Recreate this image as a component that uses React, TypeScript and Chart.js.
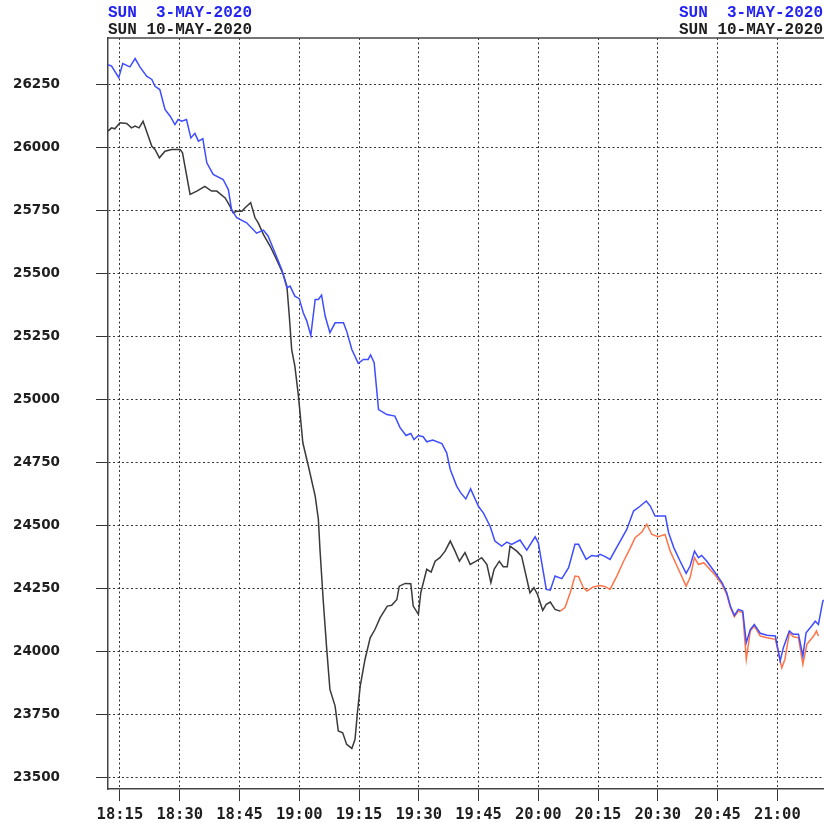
import React, { useEffect, useRef } from 'react';
import { Chart, registerables } from 'chart.js';

Chart.register(...registerables);

// x values are minutes after 18:00
const X_MIN = 12;
const X_MAX = 191.7;
const Y_MIN = 23454;
const Y_MAX = 26434.5;

const xTickMinutes = [15, 30, 45, 60, 75, 90, 105, 120, 135, 150, 165, 180];
const xTickLabels = ['18:15', '18:30', '18:45', '19:00', '19:15', '19:30', '19:45', '20:00', '20:15', '20:30', '20:45', '21:00'];
const yTickValues = [23500, 23750, 24000, 24250, 24500, 24750, 25000, 25250, 25500, 25750, 26000, 26250];

const legendBlue = 'SUN  3-MAY-2020';
const legendBlack = 'SUN 10-MAY-2020';

// SUN 3-MAY-2020 (blue)
const may3Minutes = [
  12.0, 12.9, 14.7, 15.7, 17.5, 18.8, 20.0, 21.7, 23.0, 23.8, 25.0, 26.3, 27.6, 28.8, 29.6, 30.5, 31.7, 32.8, 33.8, 34.7,
  35.8, 36.8, 38.4, 40.9, 42.2, 43.0, 44.3, 46.8, 49.3, 51.0, 52.2, 53.9, 55.6, 56.9, 57.7, 58.9, 60.0, 61.0, 61.9, 62.9,
  64.0, 64.8, 65.6, 66.5, 67.7, 69.0, 71.1, 71.9, 73.2, 74.8, 76.1, 77.3, 77.9, 78.8, 79.9, 82.0, 84.0, 85.3, 86.8, 88.0,
  88.8, 89.9, 91.1, 92.0, 93.5, 95.8, 97.0, 97.9, 99.5, 100.5, 101.8, 103.0, 105.0, 106.2, 107.9, 109.1, 110.8, 112.1, 113.3, 115.4,
  117.1, 119.2, 120.0, 122.0, 123.0, 124.2, 125.9, 127.6, 129.2, 130.1, 132.0, 133.4, 134.7, 135.5, 136.8, 138.0, 140.1, 142.2, 143.9, 145.6,
  147.1, 148.1, 149.3, 151.9, 152.7, 154.0, 155.6, 157.1, 158.1, 159.2, 160.2, 161.0, 162.3, 164.4, 166.1, 167.3, 168.2, 169.2, 170.2, 171.3,
  172.2, 173.2, 174.2, 175.7, 177.4, 179.5, 180.7, 181.5, 183.0, 184.0, 185.3, 186.4, 187.2, 188.6, 189.5, 190.3, 191.4, 191.7,
];
const may3Values = [
  26329, 26323, 26277, 26333, 26320, 26353, 26320, 26283, 26270, 26243, 26230, 26151, 26124, 26091, 26111, 26104, 26111, 26038, 26056, 26025,
  26035, 25939, 25893, 25873, 25833, 25754, 25721, 25701, 25660, 25672, 25648, 25582, 25516, 25443, 25450, 25410, 25400, 25344, 25311, 25254,
  25397, 25397, 25414, 25331, 25265, 25304, 25304, 25271, 25198, 25143, 25159, 25159, 25177, 25146, 24960, 24940, 24934, 24888, 24857, 24865,
  24841, 24857, 24852, 24832, 24839, 24825, 24788, 24722, 24656, 24630, 24605, 24645, 24575, 24550, 24497, 24438, 24418, 24434, 24425, 24442,
  24402, 24455, 24431, 24246, 24243, 24299, 24289, 24332, 24425, 24425, 24365, 24381, 24378, 24385, 24376, 24365, 24425, 24484, 24557, 24577,
  24597, 24577, 24537, 24537, 24471, 24412, 24358, 24310, 24339, 24398, 24372, 24381, 24358, 24312, 24273, 24233, 24180, 24143, 24167, 24160,
  24035, 24087, 24107, 24072, 24064, 24061, 23962, 24015, 24081, 24068, 24068, 23982, 24074, 24101, 24120, 24107, 24200, 24204,
];

// SUN 10-MAY-2020 (black part)
const may10Minutes = [
  12.0, 12.9, 13.7, 15.0, 16.7, 17.9, 18.8, 19.8, 20.8, 23.0, 23.8, 24.9, 26.3, 28.0, 30.1, 30.7, 32.6, 34.3, 36.3, 38.0,
  39.3, 41.4, 42.6, 43.4, 44.3, 45.6, 46.4, 47.8, 48.9, 49.7, 51.0, 52.7, 54.3, 56.0, 56.9, 57.5, 58.1, 58.9, 59.8, 60.9,
  62.3, 64.0, 64.8, 65.2, 66.0, 66.9, 67.7, 69.0, 69.8, 70.9, 71.9, 73.2, 74.0, 74.6, 75.3, 76.5, 77.8, 79.0, 80.3, 82.1,
  83.2, 84.5, 85.1, 86.6, 88.0, 88.6, 89.9, 90.5, 92.0, 93.1, 94.1, 95.3, 96.6, 97.9, 99.1, 100.2, 101.6, 102.9, 104.4, 105.8,
  107.1, 108.1, 108.9, 110.2, 111.2, 112.2, 112.9, 114.6, 115.8, 117.9, 118.9, 119.8, 121.1, 122.0, 123.0, 124.2, 125.5,
];
const may10Values = [
  26065, 26078, 26074, 26098, 26095, 26078, 26085, 26078, 26104, 26005, 25992, 25959, 25985, 25992, 25992, 25979, 25814, 25827, 25846, 25827,
  25827, 25800, 25767, 25741, 25747, 25747, 25761, 25781, 25721, 25701, 25655, 25608, 25556, 25496, 25450, 25331, 25198, 25132, 25013, 24828,
  24735, 24616, 24524, 24405, 24206, 24008, 23849, 23783, 23684, 23677, 23631, 23615, 23651, 23757, 23862, 23968, 24054, 24087, 24134, 24180,
  24183, 24206, 24259, 24270, 24269, 24180, 24147, 24233, 24326, 24315, 24358, 24372, 24398, 24438, 24398, 24358, 24392, 24345, 24358, 24372,
  24345, 24273, 24326, 24358, 24336, 24336, 24418, 24398, 24378, 24233, 24253, 24226, 24163, 24187, 24196, 24167, 24160,
];

// SUN 10-MAY-2020 (orange continuation)
const may10LateMinutes = [
  125.5, 126.7, 128.0, 129.2, 130.1, 131.3, 132.2, 133.8, 135.5, 136.8, 138.0, 139.7, 141.4, 143.1, 144.3, 146.0, 147.2, 148.5, 150.1, 151.8,
  153.1, 154.8, 157.1, 158.1, 159.2, 160.2, 161.5, 162.7, 164.4, 166.1, 167.3, 168.2, 169.2, 170.2, 171.3, 172.2, 173.2, 174.2, 175.7, 177.4,
  179.5, 181.1, 181.9, 183.0, 184.0, 185.3, 186.4, 187.4, 189.1, 189.8, 190.3,
];
const may10LateValues = [
  24160, 24174, 24233, 24299, 24297, 24253, 24240, 24256, 24262, 24257, 24246, 24299, 24358, 24411, 24451, 24474, 24505, 24464, 24455, 24464,
  24398, 24339, 24259, 24293, 24372, 24345, 24352, 24332, 24302, 24266, 24226, 24174, 24138, 24160, 24154, 23969, 24081, 24101, 24061, 24054,
  24048, 23935, 23969, 24074, 24058, 24054, 23949, 24028, 24061, 24081, 24061,
];

const toPoints = (xs: number[], ys: number[]) => xs.map((x, i) => ({ x, y: ys[i] }));

const INK = '#1e1e1e';

const framePlugin = {
  id: 'frameAndTitles',
  afterDraw(chart: any) {
    const { ctx, chartArea } = chart;
    ctx.save();
    // top frame line
    ctx.strokeStyle = '#444';
    ctx.lineWidth = 1.5;
    ctx.beginPath();
    ctx.moveTo(chartArea.left, chartArea.top);
    ctx.lineTo(chartArea.right, chartArea.top);
    ctx.stroke();
    // date titles
    ctx.font = 'bold 16px "Liberation Mono", "Courier New", monospace';
    ctx.textBaseline = 'alphabetic';
    ctx.textAlign = 'left';
    ctx.fillStyle = '#2424f0';
    ctx.fillText(legendBlue, chartArea.left, 16.5);
    ctx.fillStyle = INK;
    ctx.fillText(legendBlack, chartArea.left, 34);
    ctx.textAlign = 'right';
    ctx.fillStyle = '#2424f0';
    ctx.fillText(legendBlue, 823, 16.5);
    ctx.fillStyle = INK;
    ctx.fillText(legendBlack, 823, 34);
    ctx.restore();
  },
};

const zeroPadding = (s: any) => {
  s.paddingTop = 0;
  s.paddingBottom = 0;
  s.paddingLeft = 0;
  s.paddingRight = 0;
};

export default function App() {
  const ref = useRef<HTMLCanvasElement>(null);

  useEffect(() => {
    document.body.style.margin = '0';
    const canvas = ref.current;
    if (!canvas) return;
    const chart = new Chart(canvas, {
      type: 'line',
      data: {
        datasets: [
          {
            label: legendBlue,
            data: toPoints(may3Minutes, may3Values),
            borderColor: '#3f4dff',
            borderWidth: 1.5,
            pointRadius: 0,
            tension: 0,
          },
          {
            label: legendBlack,
            data: toPoints(may10Minutes, may10Values),
            borderColor: '#3a3a3a',
            borderWidth: 1.5,
            pointRadius: 0,
            tension: 0,
          },
          {
            label: legendBlack + ' (late)',
            data: toPoints(may10LateMinutes, may10LateValues),
            borderColor: '#ff7448',
            borderWidth: 1.5,
            pointRadius: 0,
            tension: 0,
          },
        ],
      },
      options: {
        responsive: false,
        animation: false,
        events: [],
        layout: { padding: { top: 38, left: 0, right: 0, bottom: 0 } },
        plugins: {
          legend: { display: false },
          tooltip: { enabled: false },
          title: { display: false },
        },
        scales: {
          x: {
            type: 'linear',
            min: X_MIN,
            max: X_MAX,
            afterFit: (s: any) => {
              s.height = 34;
              zeroPadding(s);
            },
            afterBuildTicks: (s: any) => {
              s.ticks = xTickMinutes.map((v) => ({ value: v }));
            },
            ticks: {
              autoSkip: false,
              maxRotation: 0,
              minRotation: 0,
              padding: 5,
              color: INK,
              font: { family: '"DejaVu Sans Mono", monospace', weight: 'bold', size: 15.5 },
              callback: (v: any) => {
                const i = xTickMinutes.indexOf(Number(v));
                return i >= 0 ? xTickLabels[i] : '';
              },
            },
            grid: {
              color: '#333',
              lineWidth: 1,
              tickLength: 12,
              tickColor: '#333',
              tickWidth: 1,
              tickBorderDash: [],
            },
            border: { display: true, color: '#444', width: 1.5, dash: [2, 2.5] },
          },
          y: {
            type: 'linear',
            min: Y_MIN,
            max: Y_MAX,
            afterFit: (s: any) => {
              s.width = 108;
              zeroPadding(s);
            },
            afterBuildTicks: (s: any) => {
              s.ticks = yTickValues.map((v) => ({ value: v }));
            },
            ticks: {
              padding: 36,
              color: INK,
              font: { family: '"DejaVu Sans", sans-serif', weight: 'bold', size: 13.5 },
              callback: (v: any) => String(v),
            },
            grid: {
              color: '#333',
              lineWidth: 1,
              tickLength: 12,
              tickColor: '#333',
              tickWidth: 1,
              tickBorderDash: [],
            },
            border: { display: true, color: '#444', width: 1.5, dash: [2, 2.5] },
          },
        },
      },
      plugins: [framePlugin],
    } as any);
    return () => chart.destroy();
  }, []);

  return (
    <div style={{ width: 824, height: 823, background: '#fff' }}>
      <canvas ref={ref} width={824} height={823} style={{ display: 'block' }} />
    </div>
  );
}
